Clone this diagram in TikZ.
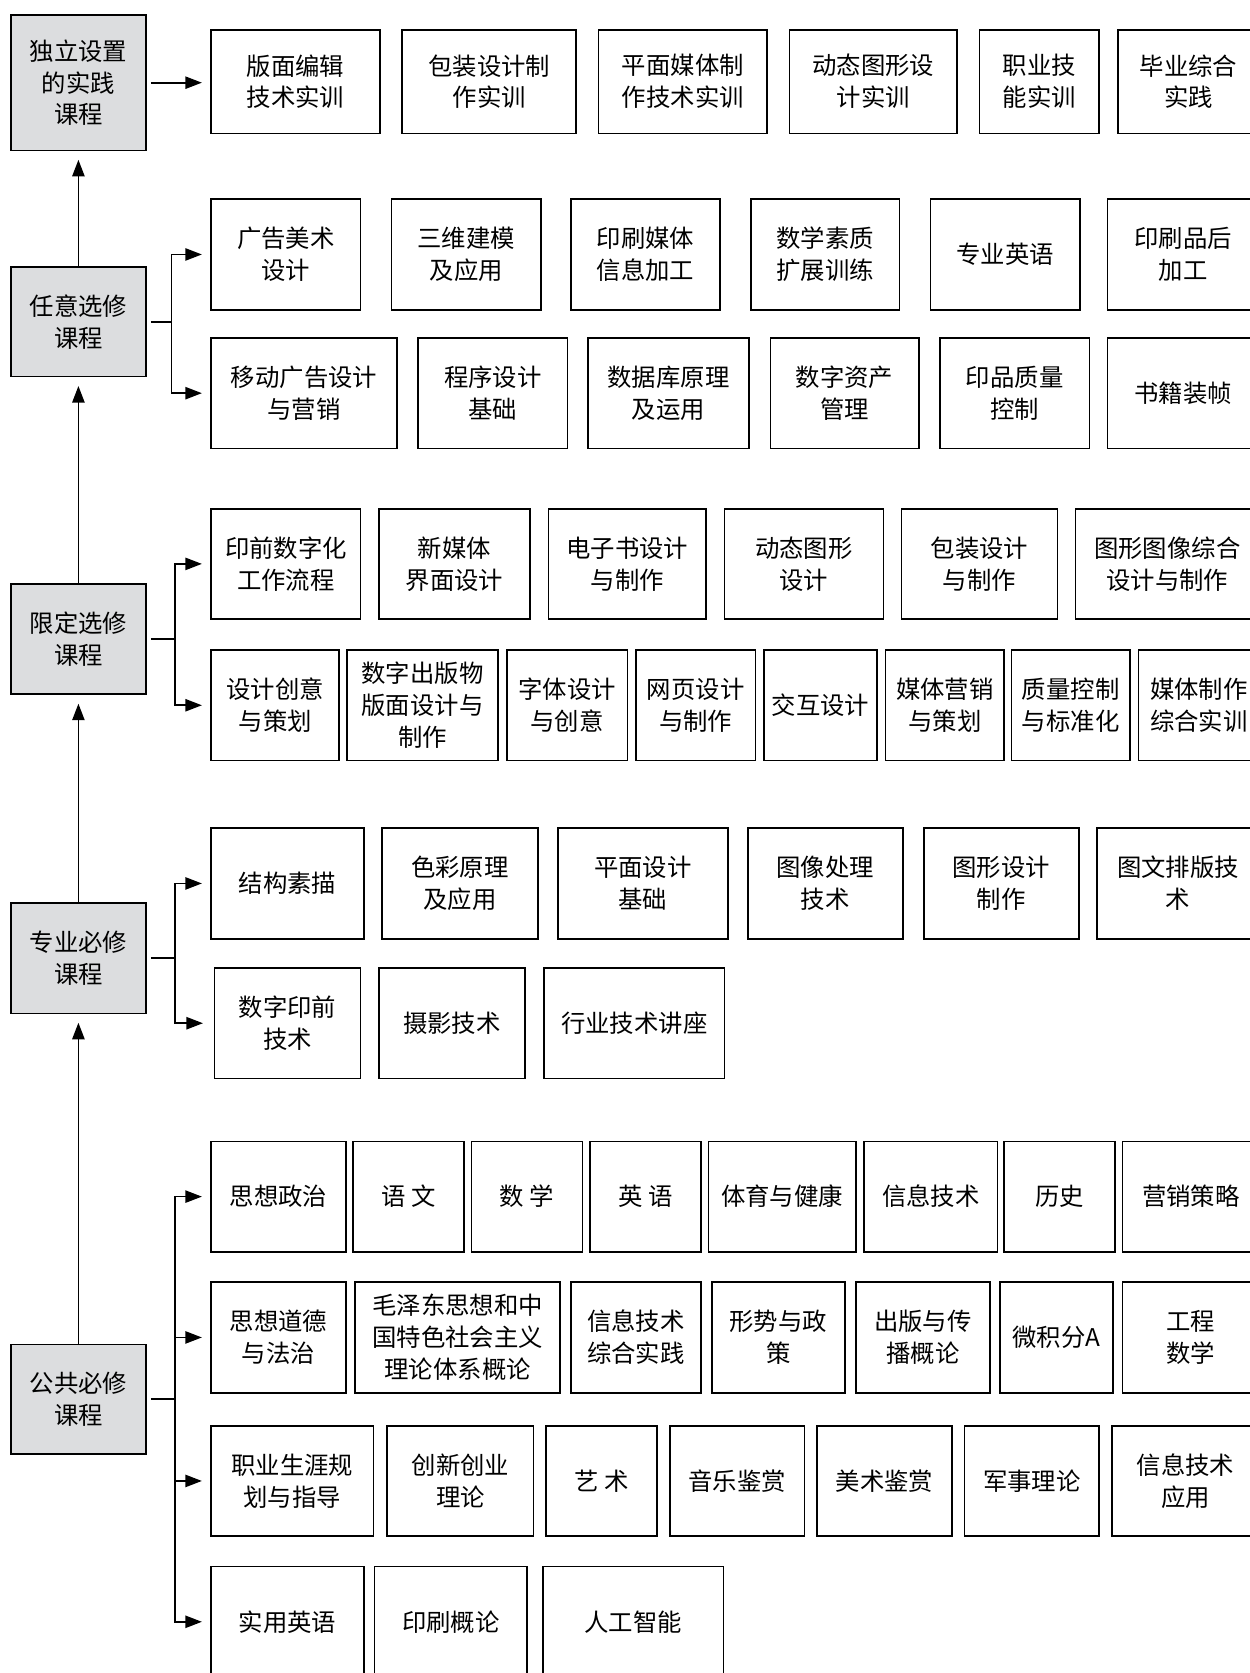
\documentclass[tikz,border=0pt]{standalone}
\usepackage{fontspec}
\setmainfont{Noto Sans CJK SC}
\usetikzlibrary{arrows.meta}
\definecolor{boxgray}{RGB}{220,221,223}

\begin{document}
\begin{tikzpicture}[line width=0.9pt,
        course/.style={draw, align=center, inner sep=0pt, minimum height=2.07cm,
            font=\fontsize{13pt}{17pt}\selectfont},
        group/.style={course, fill=boxgray, minimum width=2.54cm},
        >={Triangle[length=3.1mm,width=2.3mm]}]
        \useasboundingbox (0,0) rectangle (23.42,-31.36);

        % left column
        \node (du) [group, minimum height=2.54cm] at (1.47,-1.55) {独立设置\\的实践\\课程};
        \node (ren) [group, minimum height=2.06cm] at (1.47,-6.03) {任意选修\\课程};
        \node (xian) [group] at (1.47,-11.98) {限定选修\\课程};
        \node (zhuan) [group] at (1.47,-17.96) {专业必修\\课程};
        \node (gong) [group, minimum height=2.06cm] at (1.47,-26.23) {公共必修\\课程};

        % independent practice
        \node (d1) [course, minimum height=1.94cm, minimum width=3.16cm] at (5.54,-1.53) {版面编辑\\技术实训};
        \node (d2) [course, minimum height=1.94cm, minimum width=3.26cm] at (9.17,-1.53) {包装设计制\\作实训};
        \node (d3) [course, minimum height=1.94cm, minimum width=3.16cm] at (12.80,-1.53) {平面媒体制\\作技术实训};
        \node (d4) [course, minimum height=1.94cm, minimum width=3.14cm] at (16.37,-1.53) {动态图形设\\计实训};
        \node (d5) [course, minimum height=1.94cm, minimum width=2.24cm] at (19.48,-1.53) {职业技\\能实训};
        \node (d6) [course, minimum height=1.94cm, minimum width=2.64cm] at (22.28,-1.53) {毕业综合\\实践};

        % free electives
        \node (ra1) [course, minimum width=2.80cm] at (5.36,-4.77) {广告美术\\设计};
        \node (ra2) [course, minimum width=2.80cm] at (8.74,-4.77) {三维建模\\及应用};
        \node (ra3) [course, minimum width=2.80cm] at (12.10,-4.77) {印刷媒体\\信息加工};
        \node (ra4) [course, minimum width=2.78cm] at (15.47,-4.77) {数学素质\\扩展训练};
        \node (ra5) [course, minimum width=2.80cm] at (18.84,-4.77) {专业英语};
        \node (ra6) [course, minimum width=2.84cm] at (22.18,-4.77) {印刷品后\\加工};
        \node (rb1) [course, minimum width=3.48cm] at (5.70,-7.37) {移动广告设计\\与营销};
        \node (rb2) [course, minimum width=2.80cm] at (9.24,-7.37) {程序设计\\基础};
        \node (rb3) [course, minimum width=3.02cm] at (12.53,-7.37) {数据库原理\\及运用};
        \node (rb4) [course, minimum width=2.78cm] at (15.83,-7.37) {数字资产\\管理};
        \node (rb5) [course, minimum width=2.80cm] at (19.02,-7.37) {印品质量\\控制};
        \node (rb6) [course, minimum width=2.84cm] at (22.18,-7.37) {书籍装帧};

        % restricted electives
        \node (xa1) [course, minimum width=2.80cm] at (5.36,-10.57) {印前数字化\\工作流程};
        \node (xa2) [course, minimum width=2.84cm] at (8.52,-10.57) {新媒体\\界面设计};
        \node (xa3) [course, minimum width=2.96cm] at (11.76,-10.57) {电子书设计\\与制作};
        \node (xa4) [course, minimum width=2.98cm] at (15.07,-10.57) {动态图形\\设计};
        \node (xa5) [course, minimum width=2.92cm] at (18.36,-10.57) {包装设计\\与制作};
        \node (xa6) [course, minimum width=3.44cm] at (21.88,-10.57) {图形图像综合\\设计与制作};
        \node (xb1) [course, minimum width=2.40cm] at (5.16,-13.22) {设计创意\\与策划};
        \node (xb2) [course, minimum width=2.84cm] at (7.92,-13.22) {数字出版物\\版面设计与\\制作};
        \node (xb3) [course, minimum width=2.26cm] at (10.63,-13.22) {字体设计\\与创意};
        \node (xb4) [course, minimum width=2.24cm] at (13.04,-13.22) {网页设计\\与制作};
        \node (xb5) [course, minimum width=2.12cm] at (15.38,-13.22) {交互设计};
        \node (xb6) [course, minimum width=2.22cm] at (17.71,-13.22) {媒体营销\\与策划};
        \node (xb7) [course, minimum width=2.22cm] at (20.07,-13.22) {质量控制\\与标准化};
        \node (xb8) [course, minimum width=2.26cm] at (22.47,-13.22) {媒体制作\\综合实训};

        % core courses
        \node (za1) [course, minimum width=2.86cm] at (5.39,-16.56) {结构素描};
        \node (za2) [course, minimum width=2.92cm] at (8.62,-16.56) {色彩原理\\及应用};
        \node (za3) [course, minimum width=3.18cm] at (12.05,-16.56) {平面设计\\基础};
        \node (za4) [course, minimum width=2.90cm] at (15.47,-16.56) {图像处理\\技术};
        \node (za5) [course, minimum width=2.90cm] at (18.77,-16.56) {图形设计\\制作};
        \node (za6) [course, minimum width=3.04cm] at (22.08,-16.56) {图文排版技\\术};
        \node (zb1) [course, minimum width=2.74cm] at (5.39,-19.18) {数字印前\\技术};
        \node (zb2) [course, minimum width=2.74cm] at (8.47,-19.18) {摄影技术};
        \node (zb3) [course, minimum width=3.38cm] at (11.89,-19.18) {行业技术讲座};

        % public courses
        \node (ga1) [course, minimum width=2.52cm] at (5.22,-22.43) {思想政治};
        \node (ga2) [course, minimum width=2.08cm] at (7.66,-22.43) {语 文};
        \node (ga3) [course, minimum width=2.08cm] at (9.88,-22.43) {数 学};
        \node (ga4) [course, minimum width=2.08cm] at (12.10,-22.43) {英 语};
        \node (ga5) [course, minimum width=2.76cm] at (14.66,-22.43) {体育与健康};
        \node (ga6) [course, minimum width=2.50cm] at (17.45,-22.43) {信息技术};
        \node (ga7) [course, minimum width=2.08cm] at (19.86,-22.43) {历史};
        \node (ga8) [course, minimum width=2.56cm] at (22.32,-22.43) {营销策略};
        \node (gb1) [course, minimum width=2.52cm] at (5.22,-25.07) {思想道德\\与法治};
        \node (gb2) [course, minimum width=3.84cm] at (8.58,-25.07) {毛泽东思想和中\\国特色社会主义\\理论体系概论};
        \node (gb3) [course, minimum width=2.44cm] at (11.92,-25.07) {信息技术\\综合实践};
        \node (gb4) [course, minimum width=2.50cm] at (14.59,-25.07) {形势与政\\策};
        \node (gb5) [course, minimum width=2.52cm] at (17.30,-25.07) {出版与传\\播概论};
        \node (gb6) [course, minimum width=2.12cm] at (19.80,-25.07) {微积分A};
        \node (gb7) [course, minimum width=2.56cm] at (22.32,-25.07) {工程\\数学};
        \node (gc1) [course, minimum width=3.04cm] at (5.48,-27.76) {职业生涯规\\划与指导};
        \node (gc2) [course, minimum width=2.74cm] at (8.63,-27.76) {创新创业\\理论};
        \node (gc3) [course, minimum width=2.08cm] at (11.28,-27.76) {艺 术};
        \node (gc4) [course, minimum width=2.52cm] at (13.82,-27.76) {音乐鉴赏};
        \node (gc5) [course, minimum width=2.52cm] at (16.58,-27.76) {美术鉴赏};
        \node (gc6) [course, minimum width=2.52cm] at (19.34,-27.76) {军事理论};
        \node (gc7) [course, minimum width=2.76cm] at (22.22,-27.76) {信息技术\\应用};
        \node (gd1) [course, minimum width=2.86cm] at (5.39,-30.40) {实用英语};
        \node (gd2) [course, minimum width=2.86cm] at (8.45,-30.40) {印刷概论};
        \node (gd3) [course, minimum width=3.38cm] at (11.87,-30.40) {人工智能};

        \draw[->, shorten >=0.16cm] (ren) -- (du);
        \draw[->, shorten >=0.16cm] (xian) -- (ren);
        \draw[->, shorten >=0.16cm] (zhuan) -- (xian);
        \draw[->, shorten >=0.16cm] (gong) -- (zhuan);

        \draw[->, shorten <=0.07cm, shorten >=0.16cm] (du.east) -- (du.east -| d1.west);

        \draw[shorten <=0.07cm] (ren.east) -- ++(0.46,0) coordinate (renj);
        \draw[->, shorten >=0.16cm] (renj) |- (ra1.west);
        \draw[->, shorten >=0.16cm] (renj) |- (rb1.west);

        \draw[shorten <=0.07cm] (xian.east) -- ++(0.52,0) coordinate (xianj);
        \draw[->, shorten >=0.16cm] (xianj) |- (xa1.west);
        \draw[->, shorten >=0.16cm] (xianj) |- (xb1.west);

        \draw[shorten <=0.07cm] (zhuan.east) -- ++(0.52,0) coordinate (zhuanj);
        \draw[->, shorten >=0.16cm] (zhuanj) |- (za1.west);
        \draw[->, shorten >=0.2cm] (zhuanj) |- (zb1.west);

        \draw[shorten <=0.07cm] (gong.east) -- ++(0.52,0) coordinate (gongj);
        \draw[->, shorten >=0.16cm] (gongj) |- (ga1.west);
        \draw[->, shorten >=0.16cm] (gongj) |- (gb1.west);
        \draw[->, shorten >=0.16cm] (gongj) |- (gc1.west);
        \draw[->, shorten >=0.16cm] (gongj) |- (gd1.west);
    \end{tikzpicture}
\end{document}
